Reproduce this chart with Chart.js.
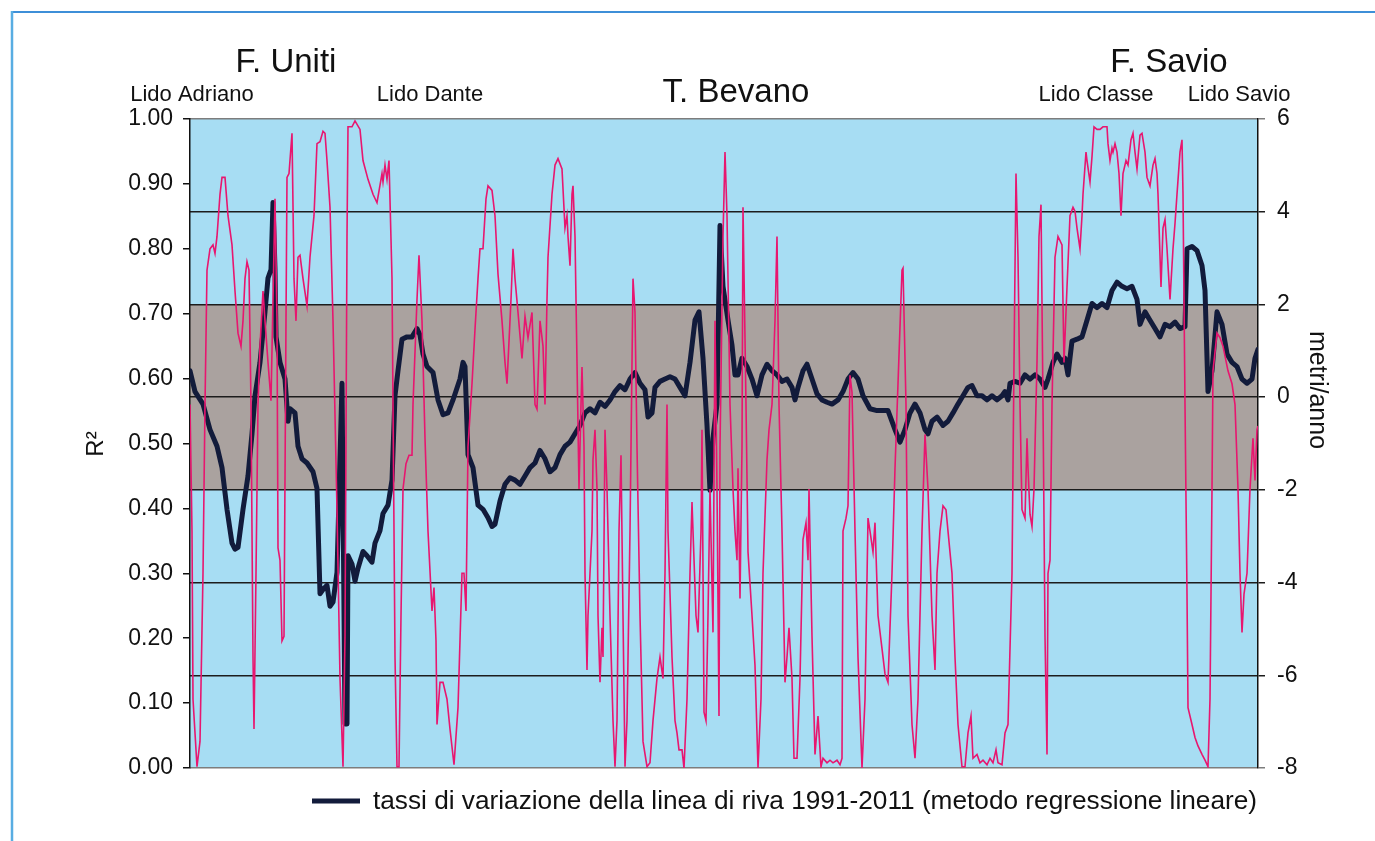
<!DOCTYPE html>
<html>
<head>
<meta charset="utf-8">
<script src="https://cdn.jsdelivr.net/npm/chart.js@4.4.1/dist/chart.umd.min.js"></script>
<style>
  html, body { margin: 0; padding: 0; background: #ffffff; }
  #wrap { width: 1375px; height: 841px; position: relative; }
</style>
</head>
<body>
<div id="wrap"><canvas id="c" width="1375" height="841"></canvas></div>
<script>
// ---- DATA (positions along the coast, arbitrary units 0..1068) ----
const r2Pos = [0,2,3,7,10,13,15,17,20,23,25,27,30,32,35,38,42,45,48,51,53,55,57,59,61,63,64,66,68,70,73,75,78,81,83,85,87,88,90,92,94,96,97,99,102,104,106,108,110,113,117,120,124,127,130,133,135,137,140,143,147,150,153,155,157,158,162,165,170,173,178,183,187,192,193,195,197,199,202,203,205,207,209,211,213,216,219,222,223,227,229,232,235,238,242,244,246,247,250,253,257,260,264,268,272,274,276,278,282,285,288,290,293,296,298,302,305,308,312,315,317,318,321,323,325,328,332,335,338,342,345,347,350,353,355,357,358,362,365,368,372,375,377,378,380,382,383,385,387,389,391,392,394,395,397,398,400,402,403,405,407,408,410,412,413,415,417,420,423,425,427,429,431,433,435,437,440,443,445,447,450,453,457,460,463,467,470,473,475,477,478,482,485,487,489,492,494,497,500,502,503,506,508,511,512,514,516,518,520,523,525,527,529,530,533,535,537,540,543,545,547,548,550,552,553,556,558,562,565,568,571,573,577,579,582,585,587,589,592,595,597,599,602,604,607,610,613,616,618,619,622,625,628,631,633,637,640,643,647,650,652,653,656,658,660,662,665,668,672,675,678,680,683,685,688,692,695,698,702,705,708,712,713,716,718,722,725,728,732,735,738,742,745,747,750,753,756,758,762,765,768,772,775,778,781,783,787,790,793,797,800,803,806,808,812,815,818,822,824,826,828,830,832,835,837,838,840,842,844,847,849,851,853,855,857,858,860,862,865,868,872,874,877,880,883,885,887,890,892,893,896,897,900,902,904,907,910,913,917,918,920,922,923,925,927,929,931,933,936,938,941,943,945,947,950,952,955,957,960,963,965,967,968,971,973,975,977,980,983,985,987,990,992,993,995,997,998,1002,1005,1008,1012,1015,1018,1020,1022,1023,1027,1030,1033,1038,1042,1045,1048,1050,1052,1054,1057,1060,1063,1065,1067,1068];
const r2Values = [0.560,0.365,0.106,0.002,0.041,0.300,0.560,0.767,0.800,0.806,0.793,0.819,0.884,0.910,0.910,0.851,0.806,0.735,0.670,0.650,0.689,0.754,0.780,0.767,0.560,0.171,0.060,0.300,0.560,0.650,0.735,0.689,0.625,0.566,0.722,0.877,0.689,0.339,0.320,0.196,0.203,0.689,0.910,0.916,0.978,0.754,0.689,0.787,0.790,0.754,0.712,0.787,0.851,0.962,0.965,0.981,0.978,0.936,0.864,0.689,0.398,0.138,0.002,0.203,0.819,0.988,0.988,0.997,0.984,0.936,0.907,0.884,0.871,0.916,0.903,0.929,0.907,0.936,0.754,0.560,0.171,0.002,0.002,0.235,0.430,0.469,0.482,0.482,0.560,0.722,0.790,0.689,0.508,0.365,0.242,0.278,0.196,0.067,0.132,0.132,0.106,0.060,0.005,0.093,0.300,0.300,0.242,0.495,0.592,0.676,0.754,0.800,0.800,0.877,0.897,0.890,0.851,0.761,0.689,0.625,0.592,0.625,0.722,0.800,0.754,0.702,0.631,0.696,0.663,0.702,0.560,0.553,0.689,0.650,0.560,0.722,0.787,0.884,0.929,0.939,0.923,0.832,0.851,0.819,0.774,0.884,0.897,0.819,0.625,0.430,0.560,0.618,0.495,0.300,0.151,0.235,0.300,0.365,0.475,0.521,0.430,0.235,0.132,0.216,0.171,0.521,0.430,0.235,0.073,0.002,0.073,0.365,0.482,0.235,0.002,0.073,0.365,0.754,0.702,0.495,0.235,0.041,0.002,0.008,0.073,0.138,0.171,0.138,0.300,0.560,0.365,0.171,0.073,0.054,0.028,0.028,0.000,0.106,0.300,0.410,0.365,0.235,0.209,0.365,0.521,0.086,0.073,0.235,0.430,0.209,0.689,0.430,0.080,0.495,0.819,0.949,0.851,0.560,0.430,0.365,0.320,0.462,0.261,0.495,0.864,0.560,0.333,0.235,0.158,0.000,0.106,0.300,0.475,0.521,0.560,0.689,0.819,0.560,0.365,0.132,0.171,0.216,0.138,0.015,0.015,0.138,0.352,0.378,0.320,0.430,0.203,0.021,0.080,0.002,0.015,0.008,0.012,0.008,0.012,0.005,0.015,0.365,0.385,0.404,0.605,0.579,0.365,0.171,0.000,0.106,0.385,0.365,0.333,0.378,0.235,0.184,0.145,0.132,0.300,0.462,0.592,0.767,0.770,0.560,0.235,0.067,0.015,0.106,0.365,0.514,0.430,0.235,0.151,0.300,0.365,0.404,0.398,0.365,0.300,0.171,0.067,0.002,0.002,0.054,0.080,0.015,0.021,0.008,0.012,0.005,0.015,0.008,0.028,0.008,0.005,0.054,0.067,0.300,0.625,0.916,0.787,0.560,0.398,0.385,0.508,0.462,0.391,0.372,0.430,0.625,0.819,0.868,0.560,0.203,0.021,0.300,0.320,0.560,0.787,0.819,0.806,0.625,0.741,0.851,0.864,0.858,0.832,0.800,0.851,0.884,0.949,0.936,0.903,0.942,0.988,0.984,0.984,0.988,0.988,0.962,0.936,0.955,0.949,0.962,0.949,0.916,0.851,0.916,0.936,0.929,0.968,0.978,0.949,0.923,0.975,0.978,0.949,0.910,0.897,0.929,0.939,0.916,0.884,0.741,0.832,0.845,0.800,0.722,0.800,0.839,0.884,0.949,0.968,0.884,0.560,0.268,0.093,0.067,0.047,0.034,0.021,0.012,0.002,0.106,0.430,0.612,0.670,0.663,0.650,0.612,0.592,0.560,0.430,0.300,0.209,0.268,0.300,0.430,0.508,0.443,0.521,0.527];

const ratePos = [0,5,13,20,27,32,37,42,45,48,53,58,62,65,70,75,78,81,83,85,86,90,95,98,100,105,108,112,117,123,127,130,133,137,140,143,147,152,155,157,158,162,165,168,173,177,182,185,190,193,198,202,205,208,212,217,222,227,230,233,237,243,248,253,258,263,270,273,275,278,283,288,293,298,302,305,310,315,320,325,330,335,340,345,350,355,360,365,370,375,380,385,390,395,400,405,410,415,420,425,430,435,440,445,450,455,458,462,465,470,475,480,485,490,495,500,505,509,513,517,520,523,527,530,533,538,542,545,548,552,557,562,567,572,577,582,587,592,597,602,605,608,613,617,622,627,632,637,642,648,653,658,663,668,673,680,687,693,698,705,710,715,720,725,730,735,738,742,747,753,758,763,768,773,778,782,787,792,797,802,807,812,815,818,820,825,830,835,840,845,850,855,858,863,867,872,875,878,882,887,892,897,902,907,912,917,922,927,932,937,942,947,950,955,960,965,970,975,980,985,990,995,997,1002,1007,1012,1015,1018,1022,1027,1032,1037,1042,1047,1052,1057,1062,1065,1068];
const rateValues = [0.57,0.12,-0.15,-0.70,-1.06,-1.52,-2.42,-3.15,-3.28,-3.24,-2.42,-1.70,-0.79,0.03,0.75,1.84,2.57,2.75,4.20,2.75,1.30,0.75,0.39,-0.52,-0.25,-0.34,-1.06,-1.33,-1.42,-1.61,-1.97,-4.24,-4.15,-4.06,-4.51,-4.42,-3.78,0.30,-7.05,-7.05,-3.42,-3.60,-3.97,-3.69,-3.33,-3.42,-3.56,-3.15,-2.88,-2.51,-2.33,-1.79,0.03,0.57,1.25,1.30,1.30,1.48,1.34,0.93,0.66,0.53,-0.06,-0.38,-0.34,-0.06,0.39,0.75,0.66,-1.24,-1.52,-2.33,-2.42,-2.60,-2.79,-2.74,-2.24,-1.88,-1.74,-1.79,-1.88,-1.70,-1.52,-1.42,-1.15,-1.33,-1.61,-1.52,-1.24,-1.06,-0.97,-0.79,-0.61,-0.34,-0.25,-0.34,-0.11,-0.20,-0.06,0.12,0.25,0.16,0.39,0.53,0.30,0.16,-0.43,-0.34,0.21,0.34,0.39,0.44,0.39,0.21,0.03,0.75,1.66,1.84,0.84,-0.61,-2.01,-0.88,-0.15,3.70,2.39,1.66,1.12,0.48,0.48,0.84,0.66,0.39,0.03,0.48,0.71,0.57,0.48,0.34,0.39,0.21,-0.06,0.21,0.57,0.71,0.39,0.07,-0.06,-0.11,-0.15,-0.06,0.12,0.39,0.53,0.39,0.03,-0.25,-0.29,-0.29,-0.29,-0.70,-0.97,-0.70,-0.34,-0.15,-0.34,-0.70,-0.79,-0.52,-0.43,-0.61,-0.52,-0.34,-0.15,0.03,0.21,0.25,0.03,0.03,-0.06,0.03,-0.06,0.03,0.12,-0.06,0.30,0.34,0.30,0.48,0.39,0.48,0.39,0.21,0.39,0.75,0.93,0.75,0.84,0.48,1.21,1.25,1.30,1.66,2.02,1.93,2.02,1.93,2.30,2.48,2.39,2.34,2.39,2.11,1.57,1.84,1.66,1.48,1.30,1.57,1.52,1.62,1.48,1.52,3.20,3.25,3.16,2.84,2.30,0.12,0.57,1.84,1.57,0.93,0.75,0.66,0.39,0.30,0.39,0.84,1.03];

const leftTicks = [0,0.1,0.2,0.3,0.4,0.5,0.6,0.7,0.8,0.9,1.0];
const rightTicks = [-8,-6,-4,-2,0,2,4,6];
const bandRange = [-2, 2];

const placeLabels = [
  {text: 'F. Uniti', x: 286, y: 72, size: 33},
  {text: 'Lido Adriano', x: 192, y: 101, size: 22},
  {text: 'Lido Dante', x: 430, y: 101, size: 22},
  {text: 'T. Bevano', x: 736, y: 102, size: 33},
  {text: 'F. Savio', x: 1169, y: 72, size: 33},
  {text: 'Lido Classe', x: 1096, y: 101, size: 22},
  {text: 'Lido Savio', x: 1239, y: 101, size: 22}
];
const legendText = 'tassi di variazione della linea di riva 1991-2011 (metodo regressione lineare)';

const FONT = '"Liberation Sans", Arial, Helvetica, sans-serif';
const NAVY = '#121b3b';
const PINK = '#e8166f';

function toPts(xs, ys) { return xs.map((x, i) => ({x: x, y: ys[i]})); }

const decor = {
  id: 'decor',
  beforeDraw(chart) {
    const ctx = chart.ctx, a = chart.chartArea, y2 = chart.scales.y2;
    ctx.save();
    ctx.fillStyle = '#ffffff';
    ctx.fillRect(0, 0, chart.width, chart.height);
    // page frame
    ctx.strokeStyle = '#3d8fd8'; ctx.lineWidth = 2;
    ctx.beginPath(); ctx.moveTo(11, 12); ctx.lineTo(1375, 12); ctx.stroke();
    ctx.strokeStyle = '#58ade2'; ctx.lineWidth = 2.5;
    ctx.beginPath(); ctx.moveTo(12, 11); ctx.lineTo(12, 841); ctx.stroke();
    // plot background
    ctx.fillStyle = '#a7ddf3';
    ctx.fillRect(a.left, a.top, a.right - a.left, a.bottom - a.top);
    const yt = y2.getPixelForValue(bandRange[1]), yb = y2.getPixelForValue(bandRange[0]);
    ctx.fillStyle = '#aaa29f';
    ctx.fillRect(a.left, yt, a.right - a.left, yb - yt);
    ctx.restore();
  },
  afterDraw(chart) {
    const ctx = chart.ctx;
    ctx.save();
    ctx.fillStyle = '#111';
    ctx.textAlign = 'center';
    ctx.textBaseline = 'alphabetic';
    placeLabels.forEach(l => {
      ctx.font = l.size + 'px ' + FONT;
      ctx.fillText(l.text, l.x, l.y);
    });
    // axis titles
    ctx.font = '24px ' + FONT;
    ctx.textBaseline = 'middle';
    ctx.save(); ctx.translate(96, 444); ctx.rotate(-Math.PI / 2); ctx.fillText('R²', 0, 0); ctx.restore();
    ctx.font = '25px ' + FONT;
    ctx.save(); ctx.translate(1317, 390); ctx.rotate(Math.PI / 2); ctx.fillText('metri/anno', 0, 0); ctx.restore();
    // legend
    ctx.strokeStyle = NAVY; ctx.lineWidth = 5; ctx.lineCap = 'butt';
    ctx.beginPath(); ctx.moveTo(312, 801); ctx.lineTo(360, 801); ctx.stroke();
    ctx.font = '25px ' + FONT;
    ctx.textAlign = 'left'; ctx.textBaseline = 'alphabetic';
    const w = ctx.measureText(legendText).width;
    const sx = 884 / w;
    ctx.save(); ctx.translate(373, 809); ctx.scale(sx, 1); ctx.fillText(legendText, 0, 0); ctx.restore();
    ctx.restore();
  }
};

new Chart(document.getElementById('c'), {
  type: 'line',
  data: {
    datasets: [
      { label: 'R²', data: toPts(r2Pos, r2Values), yAxisID: 'y', borderColor: PINK, borderWidth: 1.6,
        pointRadius: 0, tension: 0, fill: false },
      { label: legendText, data: toPts(ratePos, rateValues), yAxisID: 'y2', borderColor: NAVY, borderWidth: 5,
        pointRadius: 0, tension: 0, fill: false, borderJoinStyle: 'round', borderCapStyle: 'round' }
    ]
  },
  options: {
    responsive: false,
    animation: false,
    devicePixelRatio: 1,
    layout: { padding: { top: 119, bottom: 73, left: 0, right: 0 } },
    plugins: { legend: { display: false }, tooltip: { enabled: false }, title: { display: false } },
    scales: {
      x: { type: 'linear', min: 0, max: 1068, display: false },
      y: {
        position: 'left', min: 0, max: 1,
        afterBuildTicks: s => { s.ticks = leftTicks.map(v => ({value: v})); },
        afterFit: s => { s.width = 190; },
        ticks: { callback: v => Number(v).toFixed(2), font: { size: 23, family: FONT }, color: '#111', padding: 10 },
        grid: { drawOnChartArea: false, drawTicks: true, tickLength: 7, color: '#111', lineWidth: 1.5 },
        border: { display: true, color: '#111', width: 1.5 }
      },
      y2: {
        position: 'right', min: -8, max: 6,
        afterBuildTicks: s => { s.ticks = rightTicks.map(v => ({value: v})); },
        afterFit: s => { s.width = 117; },
        ticks: { callback: v => String(v), font: { size: 23, family: FONT }, color: '#111', padding: 12 },
        grid: { drawOnChartArea: true, drawTicks: true, tickLength: 7, lineWidth: 1.5,
          color: c => (c.tick && (c.tick.value === 6 || c.tick.value === -8)) ? '#7d7d7d' : '#1c1c1c' },
        border: { display: true, color: '#111', width: 1.5 }
      }
    }
  },
  plugins: [decor]
});
</script>
</body>
</html>
